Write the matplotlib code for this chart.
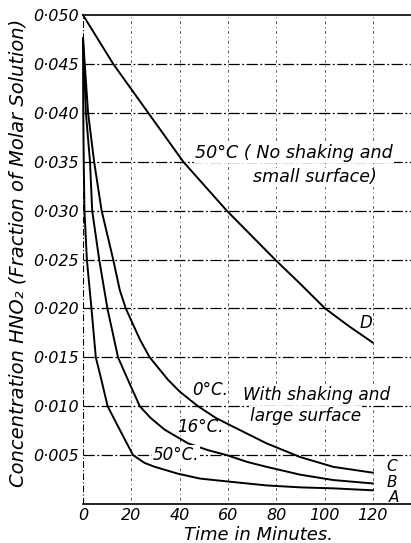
import numpy as np
import matplotlib.pyplot as plt
from matplotlib.ticker import FuncFormatter

plt.rcParams['font.family'] = ['DejaVu Sans']
plt.rcParams['font.style'] = 'italic'

# curve readings (time in minutes, concentration HNO2)
t_A = [0, 0.1, 0.3, 0.6, 1.6, 3.5, 5.3, 7.6, 10.2, 15.2, 20.7, 25.5, 29.7, 39.3, 48.4,
       60, 76, 90, 103.6, 120]
c_A = [0.0476, 0.040, 0.035, 0.030, 0.025, 0.020, 0.015, 0.0127, 0.010, 0.0076, 0.005,
       0.0042, 0.0038, 0.0031, 0.0026, 0.0023, 0.0019, 0.0017, 0.0016, 0.0014]

t_B = [0, 1.2, 2.9, 3.8, 6.7, 10.1, 14.5, 18.6, 23.5, 28, 33.8, 43.5, 51.8, 59.5, 68,
       76, 89.9, 103.6, 120]
c_B = [0.0476, 0.040, 0.035, 0.030, 0.025, 0.020, 0.015, 0.0127, 0.010, 0.0088, 0.0076,
       0.0062, 0.0055, 0.0050, 0.0043, 0.0038, 0.0030, 0.00245, 0.0021]

t_C = [0, 2.1, 4.6, 7.7, 12.5, 15.2, 17.7, 23.6, 27.6, 35.2, 40, 47.6, 55, 62.2, 76,
       89.9, 103.6, 120]
c_C = [0.0476, 0.040, 0.035, 0.030, 0.025, 0.0219, 0.020, 0.0168, 0.015, 0.0127, 0.0115,
       0.010, 0.0088, 0.0079, 0.0062, 0.0048, 0.0038, 0.0032]

t_D = [0, 12.5, 27, 41.5, 59.5, 69.5, 79.5, 90, 100.2, 110, 120]
c_D = [0.050, 0.045, 0.040, 0.035, 0.030, 0.0275, 0.025, 0.0225, 0.020, 0.0182, 0.0165]

x_ticks = [0, 20, 40, 60, 80, 100, 120]
y_ticks = [0.000, 0.005, 0.010, 0.015, 0.020, 0.025, 0.030, 0.035, 0.040, 0.045, 0.050]

fig = plt.figure(figsize=(4.11, 5.43), dpi=100)
ax = fig.add_axes([83/411, 39/543, 328/411, 489/543])
ax.set_xlim(0, 135.8)
ax.set_ylim(0, 0.050)

# grid lines, drawn like the old printed chart
for y in y_ticks[1:-1]:
    ax.axhline(y, color='black', lw=0.9, dashes=(9, 2, 1.5, 2), zorder=1)
for x in x_ticks[1:]:
    ax.axvline(x, color='0.35', lw=0.7, dashes=(1, 3, 3, 3), zorder=1)
ax.axvline(0, color='black', lw=0.8, dashes=(6, 2, 1, 2), zorder=1)

for s in ['left', 'right']:
    ax.spines[s].set_visible(False)
ax.spines['top'].set_linewidth(1.2)
ax.spines['bottom'].set_linewidth(1.2)

for t, c in [(t_A, c_A), (t_B, c_B), (t_C, c_C), (t_D, c_D)]:
    ax.plot(t, c, color='black', lw=1.4, zorder=3, clip_on=False)

ax.set_xticks(x_ticks)
ax.set_yticks(y_ticks[1:])
ax.yaxis.set_major_formatter(FuncFormatter(lambda v, p: f'{v:.3f}'.replace('.', '·')))
ax.tick_params(length=0, labelsize=11.5, pad=3)

ax.set_xlabel('Time in Minutes.', fontsize=13)
ax.xaxis.set_label_coords(0.534, -0.045)
ax.set_ylabel('Concentration HNO₂ (Fraction of Molar Solution)', fontsize=14)
ax.yaxis.set_label_coords(-0.17, 0.513)

box = dict(facecolor='white', edgecolor='none', pad=0.5)
ax.text(46.4, 0.0359, '50°C ( No shaking and', fontsize=12.6, va='center', ha='left', bbox=box, zorder=4)
ax.text(70.4, 0.0334, 'small surface)', fontsize=12.6, va='center', ha='left', bbox=box, zorder=4)
ax.text(45, 0.01166, '0°C.', fontsize=12, va='center', ha='left', bbox=box, zorder=4)
ax.text(38.8, 0.00787, '16°C.', fontsize=12, va='center', ha='left', zorder=4)
ax.text(29, 0.0050, '50°C.', fontsize=12, va='center', ha='left', bbox=box, zorder=4)
ax.text(66.3, 0.01115, 'With shaking and', fontsize=12.2, va='center', ha='left', bbox=box, zorder=4)
ax.text(69.2, 0.0090, 'large surface', fontsize=12.2, va='center', ha='left', bbox=box, zorder=4)
ax.text(125.5, 0.0038, 'C', fontsize=11, va='center', ha='left', zorder=4)
ax.text(125.5, 0.00215, 'B', fontsize=11, va='center', ha='left', zorder=4)
ax.text(126.5, 0.00065, 'A', fontsize=11, va='center', ha='left', zorder=4)
ax.text(114.5, 0.0185, 'D', fontsize=12, va='center', ha='left', zorder=4)

fig.savefig('out.png', dpi=100)
